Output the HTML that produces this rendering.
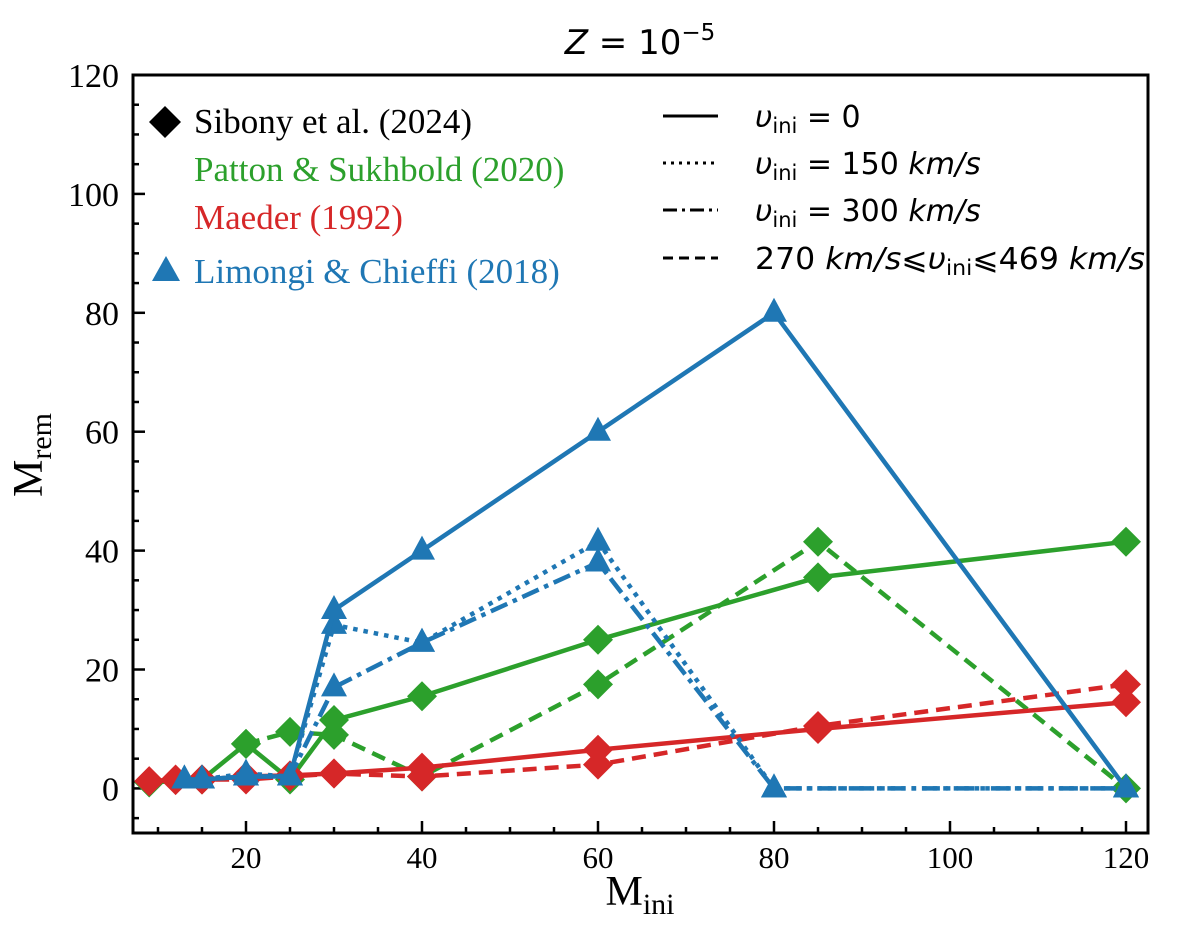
<!DOCTYPE html>
<html><head><meta charset="utf-8"><style>
body{margin:0;background:#fff;}
svg text{font-family:"Liberation Serif",serif;}
.dv{font-family:"DejaVu Sans",sans-serif;}
</style></head><body>
<svg id="chart" width="1200" height="928" xmlns="http://www.w3.org/2000/svg">
<text x="640" y="54" font-size="34" text-anchor="middle" class="dv"><tspan font-style="italic">Z</tspan> = 10<tspan dy="-14" font-size="23">−5</tspan></text>
<g id="plot"></g>
<rect x="133" y="75" width="1015" height="758" fill="none" stroke="#000" stroke-width="3"/>
<text x="640" y="905" font-size="42" text-anchor="middle">M<tspan font-size="30" dy="9">ini</tspan></text>
<text transform="translate(42,455) rotate(-90)" font-size="42" text-anchor="middle">M<tspan font-size="30" dy="9">rem</tspan></text>
<g>
<path d="M165,106 L181,122 L165,138 L149,122 Z" fill="#000"/>
<text x="194" y="133" font-size="35" fill="#000">Sibony et al. (2024)</text>
<text x="194" y="181" font-size="35" fill="#2ca02c">Patton &amp; Sukhbold (2020)</text>
<text x="194" y="229" font-size="35" fill="#d62728">Maeder (1992)</text>
<path d="M166,256 L180,281 L152,281 Z" fill="#1f77b4"/>
<text x="194" y="283" font-size="35" fill="#1f77b4">Limongi &amp; Chieffi (2018)</text>
</g>
<g class="dv">
<line x1="663" y1="116" x2="718" y2="116" stroke="#000" stroke-width="3"/>
<line x1="663" y1="163" x2="718" y2="163" stroke="#000" stroke-width="3" stroke-dasharray="3,5"/>
<line x1="663" y1="210" x2="718" y2="210" stroke="#000" stroke-width="3" stroke-dasharray="14,5,3,5"/>
<line x1="663" y1="258" x2="718" y2="258" stroke="#000" stroke-width="3" stroke-dasharray="10,6"/>
<text x="755" y="127" font-size="30" class="dv"><tspan font-style="italic">υ</tspan><tspan font-size="21" dy="6">ini</tspan><tspan dy="-6"> = 0</tspan></text>
<text x="755" y="174" font-size="30" class="dv"><tspan font-style="italic">υ</tspan><tspan font-size="21" dy="6">ini</tspan><tspan dy="-6"> = 150 <tspan font-style="italic">km/s</tspan></tspan></text>
<text x="755" y="221" font-size="30" class="dv"><tspan font-style="italic">υ</tspan><tspan font-size="21" dy="6">ini</tspan><tspan dy="-6"> = 300 <tspan font-style="italic">km/s</tspan></tspan></text>
<text x="755" y="269" font-size="30" class="dv" textLength="390" lengthAdjust="spacingAndGlyphs">270 <tspan font-style="italic">km/s</tspan>⩽<tspan font-style="italic">υ</tspan><tspan font-size="21" dy="6">ini</tspan><tspan dy="-6">⩽469 <tspan font-style="italic">km/s</tspan></tspan></text>
</g>
</svg>
<script>
const xTicks=[20,40,60,80,100,120];
const yTicks=[0,20,40,60,80,100,120];
const greenSolidX=[9,15,20,25,30,40,60,85,120];
const greenSolidY=[1,1.5,7.5,1.5,11.5,15.5,25,35.5,41.5];
const greenDashX=[20,25,30,40,60,85,120];
const greenDashY=[7.5,9.5,9,2,17.5,41.5,0];
const redSolidX=[9,12,15,20,25,30,40,60,85,120];
const redSolidY=[1.2,1.5,1.5,2,2.2,2.5,3.5,6.5,10,14.5];
const redDashX=[9,12,15,20,25,30,40,60,85,120];
const redDashY=[1.2,1.4,1.5,1.5,2,2.5,2,4,10.5,17.5];
const blueSolidX=[13,15,20,25,30,40,60,80,120];
const blueSolidY=[1.5,1.5,2,2,30,40,60,80,0];
const blueDotX=[13,15,20,25,30,40,60,80,120];
const blueDotY=[1.5,1.5,2.5,2,27.5,24.5,41.5,0,0];
const blueDDX=[13,15,20,25,30,40,60,80,120];
const blueDDY=[1.5,1.5,2,2,17,24.5,38,0,0];
const X0=133,X1=1148,XMIN=7.16,XMAX=122.5,Y0=833,Y1=75,YMIN=-7.5,YMAX=120;
const sx=v=>X0+(v-XMIN)/(XMAX-XMIN)*(X1-X0);
const sy=v=>Y0-(v-YMIN)/(YMAX-YMIN)*(Y0-Y1);
const NS='http://www.w3.org/2000/svg';
const g=document.getElementById('plot');
function mk(t,a){const e=document.createElementNS(NS,t);for(const k in a)e.setAttribute(k,a[k]);g.appendChild(e);return e;}
for(let v=10;v<=120;v+=5){const big=v%20===0;const l=mk('line',{x1:sx(v),x2:sx(v),y1:Y0,y2:Y0-(big?12:6),stroke:'#000','stroke-width':2.5});

}
for(let v=-5;v<=120;v+=5){const big=v%20===0;const l=mk('line',{x1:X0,x2:X0+(big?12:6),y1:sy(v),y2:sy(v),stroke:'#000','stroke-width':2.5});

}
xTicks.forEach(v=>{const t=mk('text',{x:sx(v),y:Y0+35,'font-size':31,'text-anchor':'middle'});t.textContent=v;

});
yTicks.forEach(v=>{const t=mk('text',{x:X0-14,y:sy(v)+12,'font-size':34,'text-anchor':'end'});t.textContent=v;

});
function series(xs,ys,color,dash,marker,name){
  const p=mk('polyline',{points:xs.map((x,i)=>sx(x)+','+sy(ys[i])).join(' '),fill:'none',stroke:color,'stroke-width':4.5,'stroke-dasharray':dash});
  
  
  xs.forEach((x,i)=>{const cx=sx(x),cy=sy(ys[i]);let m;
    if(marker==='d')m=mk('path',{d:`M${cx},${cy-15}L${cx+15},${cy}L${cx},${cy+15}L${cx-15},${cy}Z`,fill:color});
    else m=mk('path',{d:`M${cx},${cy-15}L${cx+13},${cy+9}L${cx-13},${cy+9}Z`,fill:color});
    
    });
}
const G='#2ca02c',R='#d62728',B='#1f77b4';
series(greenSolidX,greenSolidY,G,'none','d','patton-v0');
series(greenDashX,greenDashY,G,'14,8','d','patton-range');
series(redDashX,redDashY,R,'14,8','d','maeder-range');
series(redSolidX,redSolidY,R,'none','d','maeder-v0');
series(blueDotX,blueDotY,B,'4.5,6','t','limongi-v150');
series(blueDDX,blueDDY,B,'18,6,4.5,6','t','limongi-v300');
series(blueSolidX,blueSolidY,B,'none','t','limongi-v0');
</script>
</body></html>
